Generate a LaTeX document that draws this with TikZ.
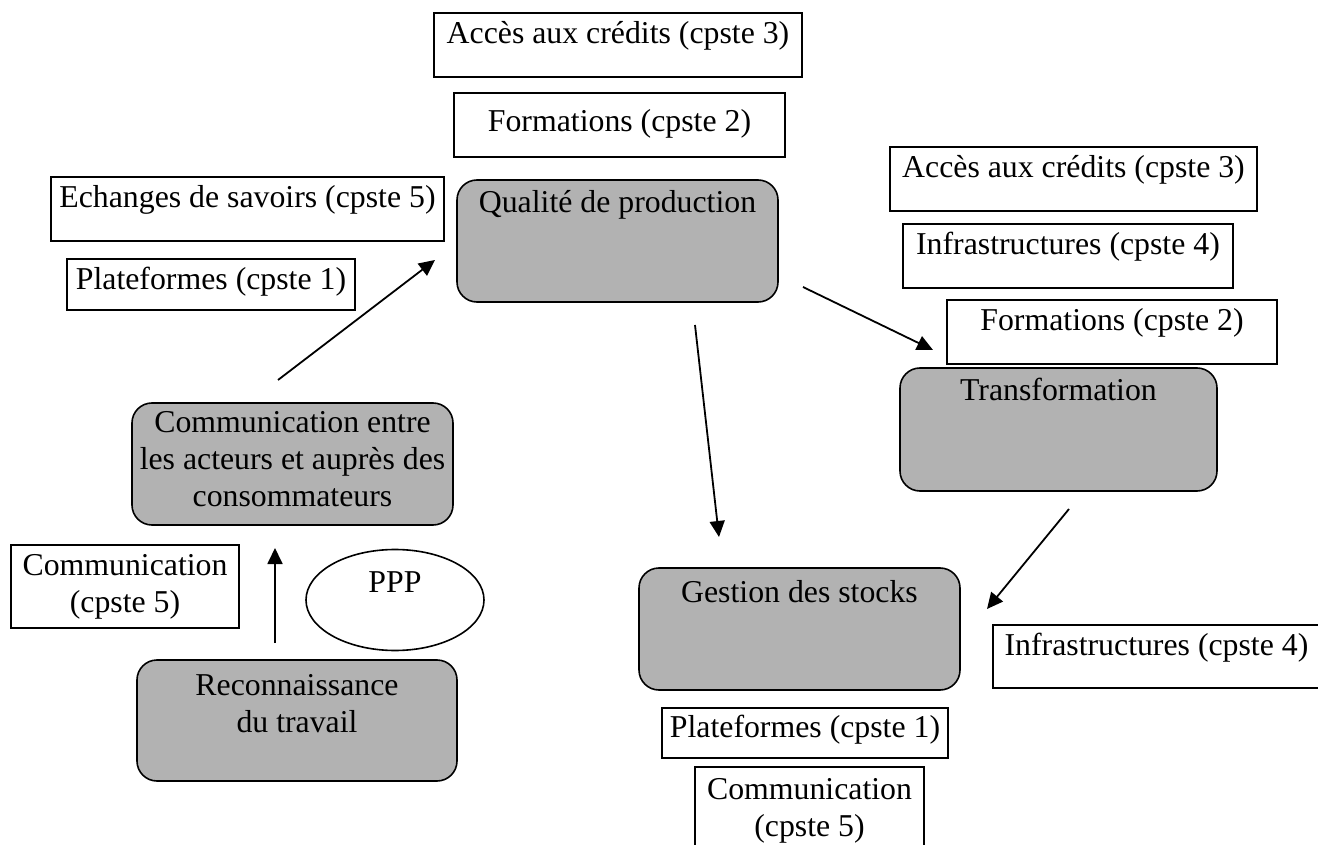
\documentclass[tikz,border=0pt]{standalone}
\usepackage{fontspec}
\setmainfont{Liberation Serif}
\usetikzlibrary{arrows.meta,fit,shapes.geometric}

\begin{document}
\begin{tikzpicture}[x=0.5pt,y=-0.5pt,
  txt/.style={anchor=base,align=center,inner sep=0pt,font=\fontsize{15.9}{18.5}\selectfont},
  cpste/.style={draw,line width=0.8pt,inner sep=0pt},
  etape/.style={draw,line width=0.8pt,fill=black!30,rounded corners=10pt,inner sep=0pt},
  fleche/.style={line width=0.9pt,-{Triangle[length=8pt,width=7.5pt]}}]
\useasboundingbox (0,0) rectangle (1318,845);
\clip (0,0) rectangle (1318,845);

\node[cpste,fit={(434,13) (802,77)},label={[txt,yshift=-15.5pt]north:Accès aux crédits (cpste 3)}] (credit1) {};
\node[cpste,fit={(454,93) (785,157)},label={[txt,yshift=-19.5pt]north:Formations (cpste 2)}] (form1) {};
\node[cpste,fit={(51,177) (444,241)},label={[txt,yshift=-15.5pt]north:Echanges de savoirs (cpste 5)}] (savoirs) {};
\node[cpste,fit={(67,259) (355,310)},label={[txt,yshift=-15.5pt]north:Plateformes (cpste 1)}] (plat1) {};
\node[cpste,fit={(890,147) (1257,211)},label={[txt,yshift=-15.5pt]north:Accès aux crédits (cpste 3)}] (credit2) {};
\node[cpste,fit={(903,224) (1233,288)},label={[txt,yshift=-15.5pt]north:Infrastructures (cpste 4)}] (infra1) {};
\node[cpste,fit={(947,300) (1277,364)},label={[txt,yshift=-15.5pt]north:Formations (cpste 2)}] (form2) {};
\node[cpste,fit={(11,545) (239,628)},label={[txt,yshift=-34pt]north:Communication\\(cpste 5)}] (comm1) {};
\node[cpste,fit={(993,625) (1320,688)},label={[txt,yshift=-15.5pt]north:Infrastructures (cpste 4)}] (infra2) {};
\node[cpste,fit={(662,708) (948,758)},label={[txt,yshift=-15pt]north:Plateformes (cpste 1)}] (plat2) {};
\node[cpste,fit={(695,767) (924,880)},label={[txt,yshift=-35pt]north:Communication\\(cpste 5)}] (comm2) {};

\node[etape,fit={(457,180) (778,302)},label={[txt,yshift=-16.5pt]north:Qualité de production}] (qualite) {};
\node[etape,fit={(900,368) (1217,491)},label={[txt,yshift=-16.5pt]north:Transformation}] (transfo) {};
\node[etape,fit={(132,403) (453,525)},label={[txt,yshift=-52pt]north:Communication entre\\les acteurs et auprès des\\consommateurs}] (acteurs) {};
\node[etape,fit={(137,660) (457,781)},label={[txt,yshift=-36.5pt]north:Reconnaissance\\du travail}] (travail) {};
\node[etape,fit={(639,568) (960,690)},label={[txt,yshift=-17.5pt]north:Gestion des stocks}] (stocks) {};

\node[ellipse,draw,line width=0.8pt,minimum width=89pt,minimum height=50.5pt,label={[txt,yshift=-22pt]north:PPP}] (ppp) at (395,600) {};

\coordinate (s1) at (278,380); \coordinate (t1) at (435,260);
\coordinate (s2) at (695,325); \coordinate (t2) at (719,537);
\coordinate (s3) at (803,287); \coordinate (t3) at (933,350);
\coordinate (s4) at (1069,509); \coordinate (t4) at (987,609);
\coordinate (s5) at (275,643); \coordinate (t5) at (275,548);

\draw[fleche] (s1) -- (t1);
\draw[fleche] (s2) -- (t2);
\draw[fleche] (s3) -- (t3);
\draw[fleche] (s4) -- (t4);
\draw[fleche] (s5) -- (t5);
\end{tikzpicture}
\end{document}
